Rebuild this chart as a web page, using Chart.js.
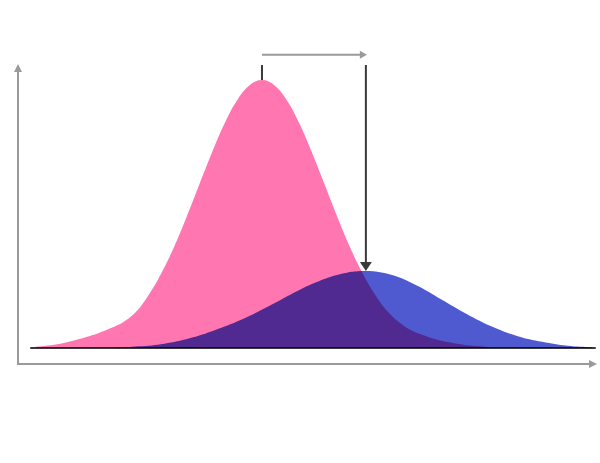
<!DOCTYPE html>
<html>
<head>
<meta charset="utf-8">
<script src="https://cdn.jsdelivr.net/npm/chart.js@4/dist/chart.umd.min.js"></script>
<style>
    body { margin: 0; background: #ffffff; }
    #wrap { width: 600px; height: 463px; }
</style>
</head>
<body>
<div id="wrap"><canvas id="shiftChart"></canvas></div>
<script>
// pink curve (narrow, tall)
const pinkX = [-3.6, -3.4, -3.2, -3.0, -2.8, -2.6, -2.4, -2.2, -2.0, -1.8, -1.6, -1.4, -1.2, -1.0, -0.8, -0.6, -0.4, -0.2, 0,
    0.2, 0.4, 0.6, 0.8, 1.0, 1.2, 1.4, 1.6, 1.8, 2.0, 2.2, 2.4, 2.6, 2.8, 3.0, 3.2, 3.4, 3.6];
const pinkY = [0.004, 0.009, 0.016, 0.027, 0.04, 0.055, 0.074, 0.097, 0.135, 0.198, 0.278, 0.375, 0.487, 0.607, 0.726, 0.835, 0.923, 0.98, 1.0,
    0.98, 0.923, 0.835, 0.726, 0.607, 0.487, 0.375, 0.278, 0.198, 0.135, 0.092, 0.062, 0.045, 0.03, 0.02, 0.012, 0.007, 0.003];

// blue curve (wide, short, shifted right)
const blueX = [-2.35, -1.95, -1.55, -1.15, -0.75, -0.35, 0.05, 0.45, 0.85, 1.25, 1.65, 2.05, 2.45, 2.85, 3.25, 3.65, 4.05, 4.45, 4.85, 5.25];
const blueY = [0.001, 0.006, 0.016, 0.036, 0.066, 0.103, 0.149, 0.199, 0.244, 0.276, 0.287, 0.273, 0.234, 0.181, 0.127, 0.08, 0.045, 0.023, 0.008, 0.002];

// baseline under both curves
const baseX = [-3.68, 5.3];
const baseY = [0, 0];

const toPoints = (xs, ys) => xs.map((x, i) => ({ x: x, y: ys[i] }));

// multiply the two fills so the overlap goes dark purple
const blendPlugin = {
    id: 'blend',
    beforeDatasetsDraw(chart) {
        chart.ctx.globalCompositeOperation = 'multiply';
    },
    afterDatasetsDraw(chart) {
        chart.ctx.globalCompositeOperation = 'source-over';
    }
};

function arrowHead(ctx, x, y, dir, len, half) {
    ctx.beginPath();
    if (dir === 'up') {
        ctx.moveTo(x, y); ctx.lineTo(x - half, y + len); ctx.lineTo(x + half, y + len);
    } else if (dir === 'down') {
        ctx.moveTo(x, y); ctx.lineTo(x - half, y - len); ctx.lineTo(x + half, y - len);
    } else {
        ctx.moveTo(x, y); ctx.lineTo(x - len, y - half); ctx.lineTo(x - len, y + half);
    }
    ctx.closePath();
    ctx.fill();
}

// axes arrows + the shift annotation
const decoPlugin = {
    id: 'deco',
    afterDraw(chart) {
        const ctx = chart.ctx;
        const area = chart.chartArea;
        const xs = chart.scales.x;
        const ys = chart.scales.y;
        ctx.save();
        ctx.globalCompositeOperation = 'source-over';

        // axes
        ctx.strokeStyle = '#9a9a9a';
        ctx.fillStyle = '#9a9a9a';
        ctx.lineWidth = 2;
        ctx.beginPath();
        ctx.moveTo(area.left + 1, area.top + 6);
        ctx.lineTo(area.left + 1, area.bottom);
        ctx.lineTo(area.right - 6, area.bottom);
        ctx.stroke();
        arrowHead(ctx, area.left + 1, area.top, 'up', 8, 4);
        arrowHead(ctx, area.right, area.bottom, 'right', 8, 4);

        // peaks
        const pinkPeak = pinkX[pinkY.indexOf(Math.max(...pinkY))];
        const bluePeak = blueX[blueY.indexOf(Math.max(...blueY))];
        const px1 = xs.getPixelForValue(pinkPeak);
        const px2 = xs.getPixelForValue(bluePeak);
        const topY = ys.getPixelForValue(1.056);
        const midY = ys.getPixelForValue(1.095);

        ctx.strokeStyle = '#3a3a3a';
        ctx.fillStyle = '#3a3a3a';
        ctx.beginPath();
        ctx.moveTo(px1, topY);
        ctx.lineTo(px1, ys.getPixelForValue(Math.max(...pinkY)));
        ctx.moveTo(px2, topY);
        ctx.lineTo(px2, ys.getPixelForValue(Math.max(...blueY)) - 8);
        ctx.stroke();
        arrowHead(ctx, px2, ys.getPixelForValue(Math.max(...blueY)), 'down', 9, 6);

        ctx.strokeStyle = '#9a9a9a';
        ctx.fillStyle = '#9a9a9a';
        ctx.beginPath();
        ctx.moveTo(px1, midY);
        ctx.lineTo(px2 - 5, midY);
        ctx.stroke();
        arrowHead(ctx, px2 + 1, midY, 'right', 7, 4);
        ctx.restore();
    }
};

const chartItem = document.getElementById('shiftChart');
if (chartItem) {
    const chart = new Chart(chartItem, {
        type: 'line',
        data: {
            datasets: [
                {
                    label: 'Baseline',
                    data: toPoints(baseX, baseY),
                    borderColor: '#3a3a3a',
                    borderWidth: 2,
                    fill: false,
                    order: 0
                },
                {
                    label: 'Shifted',
                    data: toPoints(blueX, blueY),
                    backgroundColor: '#505ad0',
                    borderWidth: 0,
                    borderColor: 'transparent',
                    fill: 'origin',
                    order: 1
                },
                {
                    label: 'Original',
                    data: toPoints(pinkX, pinkY),
                    backgroundColor: '#ff76b1',
                    borderWidth: 0,
                    borderColor: 'transparent',
                    fill: 'origin',
                    order: 2
                }
            ]
        },
        options: {
            responsive: true,
            maintainAspectRatio: false,
            animation: false,
            layout: {
                padding: { left: 17, right: 3, top: 64, bottom: 99 }
            },
            plugins: {
                legend: { display: false },
                tooltip: { enabled: false }
            },
            scales: {
                x: { type: 'linear', min: -3.89, max: 5.32, display: false },
                y: { min: -0.06, max: 1.06, display: false }
            },
            elements: {
                line: {
                    tension: 0.4
                },
                point: {
                    radius: 0,
                    hoverRadius: 0
                }
            }
        },
        plugins: [blendPlugin, decoPlugin]
    });
}
</script>
</body>
</html>
